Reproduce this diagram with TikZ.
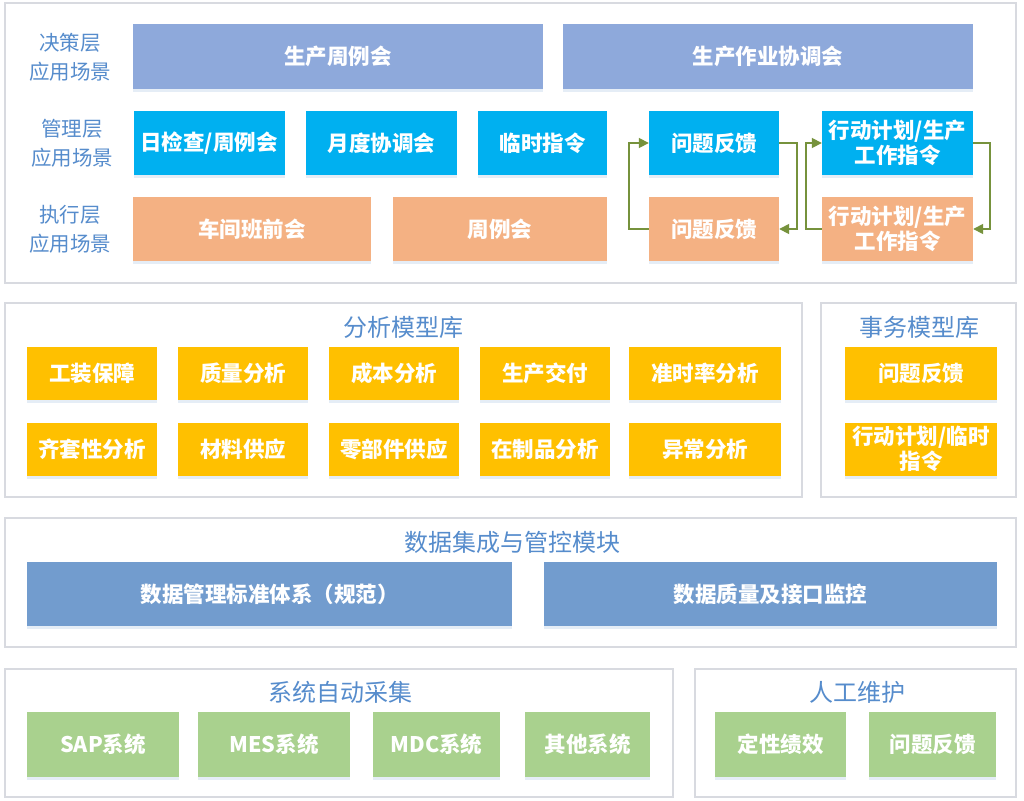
\documentclass[tikz,border=0pt]{standalone}
\usepackage{fontspec}
\setmainfont{Noto Sans CJK SC}
\usetikzlibrary{arrows.meta,shadows}
\definecolor{decblue}{RGB}{142,169,219}
\definecolor{mgrblue}{RGB}{0,176,240}
\definecolor{exeorange}{RGB}{244,177,131}
\definecolor{anayellow}{RGB}{255,192,0}
\definecolor{datablue}{RGB}{114,156,206}
\definecolor{sysgreen}{RGB}{169,209,142}
\definecolor{framegray}{RGB}{216,218,224}
\definecolor{titleblue}{RGB}{86,140,204}
\definecolor{loopgreen}{RGB}{118,146,60}
\begin{document}
\begin{tikzpicture}[x=1pt,y=-1pt,
  frame/.style={draw=framegray,line width=1.1pt,fill=white},
  title/.style={text=titleblue,font=\fontsize{24}{27}\selectfont,inner sep=0pt},
  layer/.style={text=titleblue,font=\fontsize{20.5}{29}\selectfont,align=center,inner sep=0pt},
  box/.style={text=white,font=\bfseries\fontsize{21.5}{25}\selectfont,align=center,inner sep=0pt,
    drop shadow={shadow xshift=0pt,shadow yshift=-3pt,opacity=0.18,fill=datablue}},
  dec/.style={box,fill=decblue,minimum height=65pt},
  mgr/.style={box,fill=mgrblue,minimum height=64pt},
  exe/.style={box,fill=exeorange,minimum height=64pt},
  ana/.style={box,fill=anayellow,minimum height=53pt},
  dat/.style={box,fill=datablue,minimum height=64pt},
  sys/.style={box,fill=sysgreen,minimum height=65pt},
  feedback/.style={draw=loopgreen,line width=1.7pt,-{Triangle[length=10pt,width=10pt]}}]
\useasboundingbox (0,0) rectangle (1024,800);

\path[frame] (5,3) rectangle (1016,283);
\node[layer] (l1) at (70,57) {决策层\\应用场景};
\node[layer] (l2) at (72,143) {管理层\\应用场景};
\node[layer] (l3) at (70,229) {执行层\\应用场景};
\node[dec,minimum width=410pt] (d1) at (338,56.5) {生产周例会};
\node[dec,minimum width=410pt] (d2) at (768,56.5) {生产作业协调会};
\node[mgr,minimum width=151pt] (m1) at (209,143) {日检查/周例会};
\node[mgr,minimum width=151pt] (m2) at (381.5,143) {月度协调会};
\node[mgr,minimum width=129pt] (m3) at (542.5,143) {临时指令};
\node[mgr,minimum width=130pt] (m4) at (714,143) {问题反馈};
\node[mgr,minimum width=151pt] (m5) at (897.5,143) {行动计划/生产\\工作指令};
\node[exe,minimum width=238pt] (e1) at (252,229) {车间班前会};
\node[exe,minimum width=214pt] (e2) at (500,229) {周例会};
\node[exe,minimum width=130pt] (e3) at (714,229) {问题反馈};
\node[exe,minimum width=151pt] (e4) at (897.5,229) {行动计划/生产\\工作指令};
\path[feedback] (e3.west) -- ++(-20,0) |- (m4.west);
\path[feedback] (m4.east) -- ++(18,0) |- (e3.east);
\path[feedback] (e4.west) -- ++(-16,0) |- (m5.west);
\path[feedback] (m5.east) -- ++(17,0) |- (e4.east);

\path[frame] (5,303) rectangle (802,497);
\node[title] (t1) at (403,327) {分析模型库};
\node[ana,minimum width=130pt] (a1) at (92,373.5) {工装保障};
\node[ana,minimum width=130pt] (a2) at (243,373.5) {质量分析};
\node[ana,minimum width=130pt] (a3) at (394,373.5) {成本分析};
\node[ana,minimum width=130pt] (a4) at (545,373.5) {生产交付};
\node[ana,minimum width=152pt] (a5) at (705,373.5) {准时率分析};
\node[ana,minimum width=130pt] (a6) at (92,449) {齐套性分析};
\node[ana,minimum width=130pt] (a7) at (243,449) {材料供应};
\node[ana,minimum width=130pt] (a8) at (394,449) {零部件供应};
\node[ana,minimum width=130pt] (a9) at (545,449) {在制品分析};
\node[ana,minimum width=152pt] (a10) at (705,449) {异常分析};

\path[frame] (821,303) rectangle (1016,497);
\node[title] (t2) at (919,327) {事务模型库};
\node[ana,minimum width=152pt] (s1) at (921,373.5) {问题反馈};
\node[ana,minimum width=152pt] (s2) at (921,449) {行动计划/临时\\指令};

\path[frame] (5,518) rectangle (1016,647);
\node[title] (t3) at (512,542) {数据集成与管控模块};
\node[dat,minimum width=485pt] (g1) at (269.5,594) {数据管理标准体系（规范）};
\node[dat,minimum width=453pt] (g2) at (770.5,594) {数据质量及接口监控};

\path[frame] (5,669) rectangle (673,797);
\node[title] (t4) at (340,692) {系统自动采集};
\node[sys,minimum width=152pt] (c1) at (103,744.5) {SAP系统};
\node[sys,minimum width=152pt] (c2) at (274,744.5) {MES系统};
\node[sys,minimum width=127pt] (c3) at (436.5,744.5) {MDC系统};
\node[sys,minimum width=125pt] (c4) at (587.5,744.5) {其他系统};

\path[frame] (695,669) rectangle (1016,797);
\node[title] (t5) at (857,692) {人工维护};
\node[sys,minimum width=131pt] (h1) at (780.5,744.5) {定性绩效};
\node[sys,minimum width=127pt] (h2) at (932.5,744.5) {问题反馈};

\end{tikzpicture}
\end{document}
